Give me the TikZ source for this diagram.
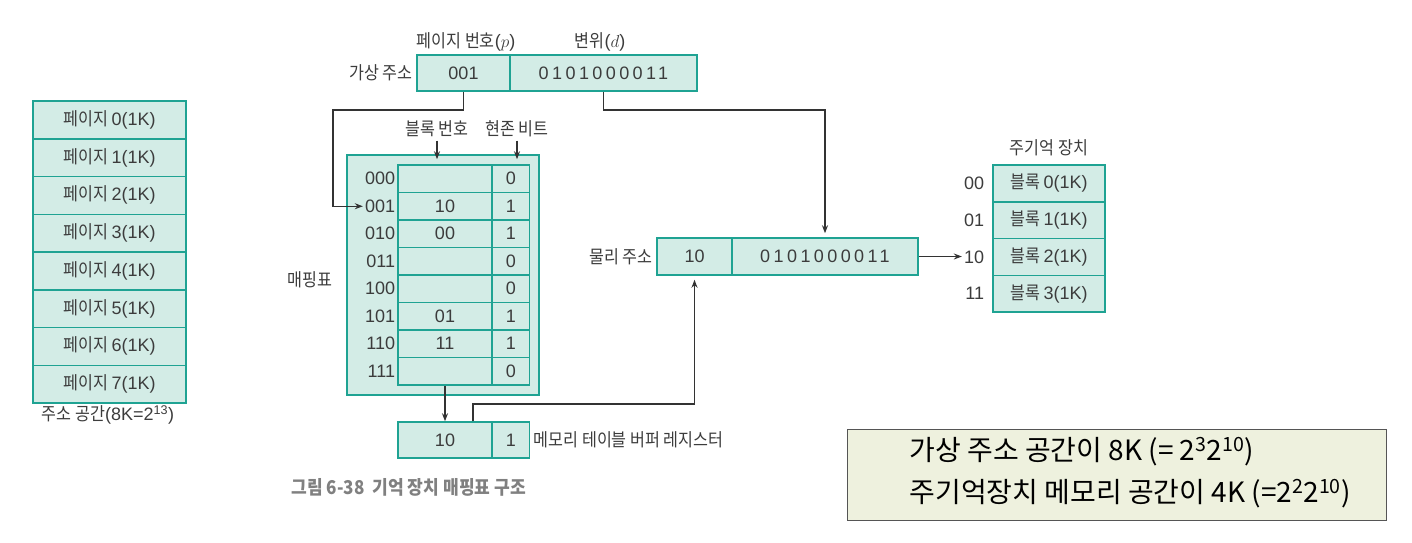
\documentclass[tikz,border=0pt]{standalone}
\usepackage{fontspec}
\setmainfont[FakeStretch=0.9]{Noto Sans CJK KR}
\newfontfamily\notefont{Noto Sans CJK KR}
\newfontfamily\numfont{Liberation Sans}
\newfontfamily\numspaced[LetterSpace=19]{Liberation Sans}
\newcommand\latn[1]{{\numfont #1}}
\usetikzlibrary{arrows.meta}
\definecolor{cellfill}{HTML}{D3ECE6}
\definecolor{celldraw}{HTML}{1FA393}
\definecolor{labeltext}{HTML}{3C3C3C}
\definecolor{captext}{HTML}{808080}
\definecolor{notefill}{HTML}{EEF1DE}
\definecolor{notedraw}{HTML}{555555}

\begin{document}
\begin{tikzpicture}[x=1pt,y=-1pt,>={Stealth[length=8pt,width=6pt]},
		every node/.style={text=labeltext,font=\fontsize{18}{21}\selectfont},
		cell/.style={draw=celldraw,fill=cellfill,line width=1.5pt,inner sep=0pt},
		num/.style={font=\numfont\fontsize{18}{21}\selectfont},
		digits/.style={font=\numspaced\fontsize{18}{21}\selectfont},
		conn/.style={draw=black!80,line width=1.3pt,->},
		addr/.style={num,anchor=east,inner sep=2pt},
		notetext/.style={anchor=west,text=black,font=\notefont\fontsize{28}{32}\selectfont}]

		\useasboundingbox (0,0) rectangle (1412,542);

		% address space
		\foreach \i in {0,...,7}
			\node [cell, minimum width=153, minimum height=37.75] (page\i) at (109.5,{119.9+37.75*\i}) {페이지 \latn{\i(1K)}};
		\node (addrspace) at (108,415) {주소 공간\latn{(8K=2\textsuperscript{13})}};

		% virtual address
		\node [cell, num, minimum width=93, minimum height=36] (vpage) at (463.5,73) {001};
		\node [cell, digits, minimum width=187, minimum height=36] (voff) at (603.5,73) {0101000011};
		\node [anchor=east] (vlabel) at (vpage.west) {가상 주소};
		\node (phead) at (466,42) {페이지 번호\latn{(}$p$\latn{)}};
		\node (dhead) at (600,42) {변위\latn{(}$d$\latn{)}};

		% mapping table
		\node [cell, minimum width=192, minimum height=240] (maptab) at (443,275) {};
		\foreach \i/\b/\v/\r in {0/{}/0/000,1/10/1/001,2/00/1/010,3/{}/0/011,4/{}/0/100,5/01/1/101,6/11/1/110,7/{}/0/111} {
			\node [cell, num, minimum width=94, minimum height=27.5] (blk\i) at (445,{178.75+27.5*\i}) {\b};
			\node [cell, num, minimum width=37.5, minimum height=27.5] (bit\i) at (510.75,{178.75+27.5*\i}) {\v};
			\node [addr] (row\i) at (blk\i.west) {\r};
		}
		\node (blkhead) at (437,129) {블록 번호};
		\node (bithead) at (517,129) {현존 비트};
		\node (maplabel) at (310,280) {매핑표};

		% register
		\node [cell, num, minimum width=94, minimum height=36] (regblk) at (445,440) {10};
		\node [cell, num, minimum width=37.5, minimum height=36] (regbit) at (510.75,440) {1};
		\node [anchor=west] (reglabel) at (regbit.east) {메모리 테이블 버퍼 레지스터};

		% physical address
		\node [cell, num, minimum width=75, minimum height=37] (ppage) at (694.5,256.5) {10};
		\node [cell, digits, minimum width=186, minimum height=37] (poff) at (825,256.5) {0101000011};
		\node [anchor=east] (plabel) at (ppage.west) {물리 주소};

		% main memory
		\node (memhead) at (1049,148) {주기억 장치};
		\foreach \i/\a in {0/00,1/01,2/10,3/11} {
			\node [cell, minimum width=112, minimum height=36.75] (mem\i) at (1049,{183.4+36.75*\i}) {블록 \latn{\i(1K)}};
			\node [addr] (maddr\i) at ([xshift=-6pt]mem\i.west) {\a};
		}

		\node [anchor=west, text=captext, font=\fontsize{19}{22}\selectfont\bfseries] (figcap) at (288,487) {그림 6-38\ \ 기억 장치 매핑표 구조};

		% note
		\node [draw=notedraw, fill=notefill, line width=1pt, minimum width=539, minimum height=91] (note) at (1116.5,474.5) {};
		\node [notetext] (note1) at (906,452) {가상 주소 공간이 8K (= 2\textsuperscript{3}2\textsuperscript{10})};
		\node [notetext] (note2) at (906,494) {주기억장치 메모리 공간이 4K (=2\textsuperscript{2}2\textsuperscript{10})};

		% connectors
		\coordinate (vbend) at (333,110);
		\coordinate (dbend) at (825,110);
		\coordinate (rbend) at (694.5,404);
		\draw [conn] (vpage.south) |- (vbend) |- (row1.west);
		\draw [conn, shorten >=4pt] (voff.south) |- (dbend) -- (poff.north);
		\draw [conn, shorten >=5pt] (blkhead.south) -- (blkhead.south |- blk0.north);
		\draw [conn, shorten >=5pt] (bithead.south) -- (bithead.south |- bit0.north);
		\draw [conn] (blk7.south) -- (regblk.north);
		\draw [conn, shorten >=4pt] ([xshift=28pt]regblk.north) |- (rbend) -- (ppage.south);
		\draw [conn] (poff.east) -- (poff.east -| maddr2.west);

	\end{tikzpicture}
\end{document}
